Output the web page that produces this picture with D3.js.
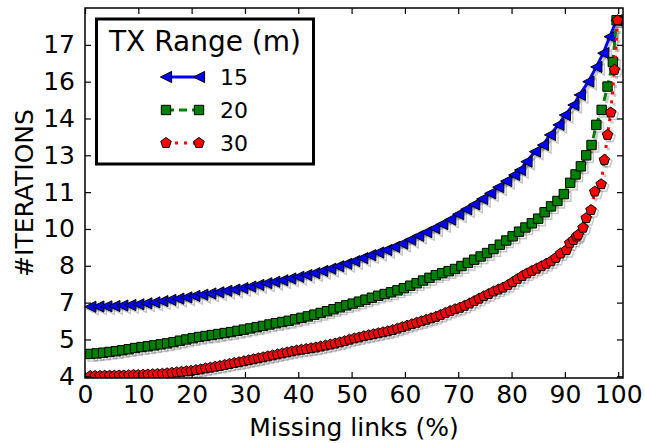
<!DOCTYPE html>
<html><head><meta charset="utf-8">
<script src="https://cdn.jsdelivr.net/npm/d3@7/dist/d3.min.js"></script>
<style>body{margin:0;background:#fff}svg{display:block}text{font-family:"DejaVu Sans",sans-serif;fill:#000}</style>
</head><body><svg id="c" width="645" height="443"></svg>
<script>
// ---------- data ----------
const xTicks = [0,10,20,30,40,50,60,70,80,90,100];
const yTicks = [4,5.5,7,8.5,10,11.5,13,14.5,16,17.5];
const yTickLabels = ["4","5","7","8","10","11","13","14","16","17"];
const xLabel = "Missing links (%)";
const yLabel = "#ITERATIONS";
const legendTitle = "TX Range (m)";
const seriesNames = ["15","20","30"];

const x15 = [1.0,2.5,4.0,5.5,7.0,8.5,10.0,11.5,13.0,14.5,16.0,17.5,19.0,20.5,22.0,23.5,25.0,26.5,28.0,29.5,31.0,32.5,34.0,35.5,37.0,38.5,40.0,41.5,43.0,44.5,46.0,47.5,49.0,50.5,52.0,53.5,55.0,56.5,58.0,59.5,61.0,62.5,64.0,65.5,67.0,68.5,70.0,71.5,73.0,74.5,76.0,77.5,79.0,80.5,81.6,82.8,84.4,85.9,87.2,88.8,90.0,91.6,92.8,94.4,95.9,97.2,98.4,99.7];
const y15 = [6.83,6.84,6.85,6.86,6.88,6.90,6.93,6.97,7.01,7.06,7.11,7.16,7.21,7.27,7.32,7.37,7.42,7.48,7.53,7.59,7.65,7.72,7.79,7.85,7.91,7.98,8.05,8.12,8.20,8.29,8.38,8.48,8.58,8.69,8.81,8.93,9.04,9.14,9.27,9.40,9.56,9.72,9.87,10.03,10.20,10.38,10.60,10.80,11.00,11.22,11.45,11.70,11.95,12.20,12.40,12.74,13.15,13.42,13.83,14.24,14.64,15.05,15.46,16.00,16.60,17.16,17.83,18.50];

const x20 = [1.0,2.2,3.4,4.6,5.8,7.0,8.2,9.4,10.6,11.8,13.0,14.2,15.4,16.6,17.8,19.0,20.2,21.4,22.6,23.8,25.0,26.2,27.4,28.6,29.8,31.0,32.2,33.4,34.6,35.8,37.0,38.2,39.4,40.6,41.8,43.0,44.2,45.4,46.6,47.8,49.0,50.2,51.4,52.6,53.8,55.0,56.2,57.4,58.6,59.8,61.0,62.2,63.4,64.6,65.8,67.0,68.2,69.4,70.6,71.8,73.0,74.2,75.4,76.6,77.8,79.0,80.2,81.4,82.6,83.8,85.0,86.2,87.4,88.6,89.8,91.0,92.0,93.0,94.0,95.0,95.9,96.9,98.0,99.0,99.7];
const y20 = [4.91,4.93,4.96,4.99,5.02,5.06,5.10,5.15,5.19,5.22,5.26,5.30,5.34,5.39,5.45,5.50,5.55,5.60,5.64,5.68,5.72,5.76,5.80,5.85,5.90,5.95,6.00,6.05,6.11,6.16,6.21,6.26,6.32,6.38,6.44,6.51,6.58,6.65,6.73,6.81,6.89,6.96,7.04,7.12,7.20,7.28,7.35,7.42,7.50,7.59,7.69,7.79,7.90,8.01,8.12,8.20,8.28,8.37,8.49,8.62,8.75,8.88,9.02,9.18,9.36,9.53,9.70,9.89,10.06,10.23,10.42,10.68,10.92,11.14,11.42,11.88,12.22,12.55,13.00,13.42,14.24,14.85,15.80,16.80,18.50];

const x30 = [1.0,1.9,2.8,3.7,4.6,5.5,6.4,7.3,8.2,9.1,10.0,10.9,11.8,12.7,13.6,14.5,15.4,16.3,17.2,18.1,19.0,19.9,20.8,21.7,22.6,23.5,24.4,25.3,26.2,27.1,28.0,28.9,29.8,30.7,31.6,32.5,33.4,34.3,35.2,36.1,37.0,37.9,38.8,39.7,40.6,41.5,42.4,43.3,44.2,45.1,46.0,46.9,47.8,48.7,49.6,50.5,51.4,52.3,53.2,54.1,55.0,55.9,56.8,57.7,58.6,59.5,60.4,61.3,62.2,63.1,64.0,64.9,65.8,66.7,67.6,68.5,69.4,70.3,71.2,72.1,73.0,73.9,74.8,75.7,76.6,77.5,78.4,79.3,80.2,81.1,82.0,82.9,83.8,84.7,85.6,86.5,87.4,88.3,89.2,90.3,90.9,91.6,92.2,92.5,93.4,94.0,94.9,95.6,96.8,97.4,98.0,98.6,99.3,99.9];
const y30 = [4.01,4.01,4.01,4.02,4.02,4.02,4.03,4.03,4.04,4.05,4.05,4.06,4.07,4.08,4.09,4.10,4.12,4.14,4.16,4.18,4.20,4.22,4.25,4.28,4.32,4.35,4.39,4.42,4.46,4.50,4.54,4.57,4.61,4.65,4.69,4.73,4.77,4.81,4.85,4.89,4.93,4.97,5.01,5.05,5.08,5.11,5.14,5.17,5.21,5.25,5.29,5.33,5.38,5.43,5.49,5.54,5.58,5.63,5.67,5.71,5.75,5.79,5.83,5.88,5.94,6.00,6.06,6.12,6.18,6.24,6.30,6.36,6.42,6.50,6.58,6.66,6.73,6.79,6.87,6.96,7.06,7.16,7.26,7.35,7.45,7.53,7.61,7.71,7.83,7.96,8.08,8.19,8.29,8.38,8.48,8.58,8.68,8.82,9.00,9.14,9.42,9.55,9.69,9.76,10.05,10.44,10.77,11.52,11.82,12.81,13.83,14.74,16.48,18.50];

// ---------- layout ----------
const L = 85, R = 623, T = 8, B = 378;
const svg = d3.select("#c");
const x = d3.scaleLinear().domain([0, 100.9]).range([L, R]);
const y = d3.scaleLinear().domain([3.93, 19.0]).range([B, T]);

// marker shapes
const triLeft = s => `M${-s},0L${s},${-s}L${s},${s}Z`;
const square = s => `M${-s},${-s}L${s},${-s}L${s},${s}L${-s},${s}Z`;
const pentagon = r => {
  let p = "";
  for (let i = 0; i < 5; i++) {
    const a = -Math.PI/2 + i*2*Math.PI/5;
    p += (i ? "L" : "M") + (r*Math.cos(a)).toFixed(2) + "," + (r*Math.sin(a)).toFixed(2);
  }
  return p + "Z";
};

const series = [
  {name: seriesNames[0], xs: x15, ys: y15, color: "#0000ff", shape: triLeft(5.6), dash: null},
  {name: seriesNames[1], xs: x20, ys: y20, color: "#008000", shape: square(4.7), dash: "8,5"},
  {name: seriesNames[2], xs: x30, ys: y30, color: "#ff0000", shape: pentagon(5.5), dash: "3,6"}
];

svg.append("defs").append("clipPath").attr("id", "clip")
  .append("rect").attr("x", L).attr("y", T).attr("width", R - L).attr("height", B - T);

const plot = svg.append("g").attr("clip-path", "url(#clip)");
const line = d3.line().x(d => x(d[0])).y(d => y(d[1]));
const off = 2.4;

series.forEach(s => {
  const pts = s.xs.map((v, i) => [v, s.ys[i]]);
  // line shadow
  plot.append("path").attr("d", line(pts)).attr("fill", "none")
    .attr("stroke", "#000").attr("stroke-opacity", 0.2).attr("stroke-width", 3)
    .attr("stroke-dasharray", s.dash).attr("transform", `translate(${off},${off})`);
  plot.append("path").attr("d", line(pts)).attr("fill", "none")
    .attr("stroke", s.color).attr("stroke-width", 3).attr("stroke-dasharray", s.dash);
  // marker shadows (outline only)
  plot.append("g").selectAll("path").data(pts).join("path")
    .attr("d", s.shape)
    .attr("transform", d => `translate(${x(d[0]) + off},${y(d[1]) + off})`)
    .attr("fill", "none").attr("stroke", "#000").attr("stroke-opacity", 0.22).attr("stroke-width", 1.5);
  plot.append("g").selectAll("path").data(pts).join("path")
    .attr("d", s.shape)
    .attr("transform", d => `translate(${x(d[0])},${y(d[1])})`)
    .attr("fill", s.color).attr("stroke", "#000").attr("stroke-width", 1);
});

// ---------- axes ----------
const fs = 25;
const gx = svg.append("g").attr("transform", `translate(0,${B})`)
  .call(d3.axisBottom(x).tickValues(xTicks).tickSize(-6).tickPadding(7).tickFormat(d3.format("d")));
const gxt = svg.append("g").attr("transform", `translate(0,${T})`)
  .call(d3.axisTop(x).tickValues(xTicks).tickSize(-6).tickFormat(""));
const gy = svg.append("g").attr("transform", `translate(${L},0)`)
  .call(d3.axisLeft(y).tickValues(yTicks).tickSize(-6).tickPadding(10).tickFormat((d, i) => yTickLabels[i]));
const gyr = svg.append("g").attr("transform", `translate(${R},0)`)
  .call(d3.axisRight(y).tickValues(yTicks).tickSize(-6).tickFormat(""));
[gx, gxt, gy, gyr].forEach(g => {
  g.select(".domain").remove();
  g.selectAll(".tick line").attr("stroke", "#000").attr("stroke-width", 1.2);
  g.selectAll("text").attr("font-size", fs).attr("font-family", "DejaVu Sans").attr("fill", "#000");
});

svg.append("rect").attr("x", L).attr("y", T).attr("width", R - L).attr("height", B - T)
  .attr("fill", "none").attr("stroke", "#000").attr("stroke-width", 1.5);

svg.append("text").attr("x", (L + R) / 2).attr("y", 436).attr("text-anchor", "middle")
  .attr("font-size", fs).text(xLabel);
svg.append("text").attr("transform", `translate(33,${(T + B) / 2}) rotate(-90)`)
  .attr("text-anchor", "middle").attr("font-size", fs).text(yLabel);

// ---------- legend ----------
const lg = svg.append("g");
lg.append("rect").attr("x", 96.5).attr("y", 19).attr("width", 217).attr("height", 145)
  .attr("fill", "#fff").attr("stroke", "#000").attr("stroke-width", 3);
lg.append("text").attr("x", 205).attr("y", 51).attr("text-anchor", "middle")
  .attr("font-size", 28).text(legendTitle);
const rowY = [77, 110, 143];
series.forEach((s, i) => {
  const cy = rowY[i];
  lg.append("line").attr("x1", 166).attr("x2", 199).attr("y1", cy).attr("y2", cy)
    .attr("stroke", s.color).attr("stroke-width", 3).attr("stroke-dasharray", s.dash);
  [166, 199].forEach(cx => {
    lg.append("path").attr("d", s.shape).attr("transform", `translate(${cx},${cy})`)
      .attr("fill", s.color).attr("stroke", "#000").attr("stroke-width", 1);
  });
  lg.append("text").attr("x", 220).attr("y", cy + 7.8).attr("font-size", 22).text(s.name);
});
</script></body></html>
